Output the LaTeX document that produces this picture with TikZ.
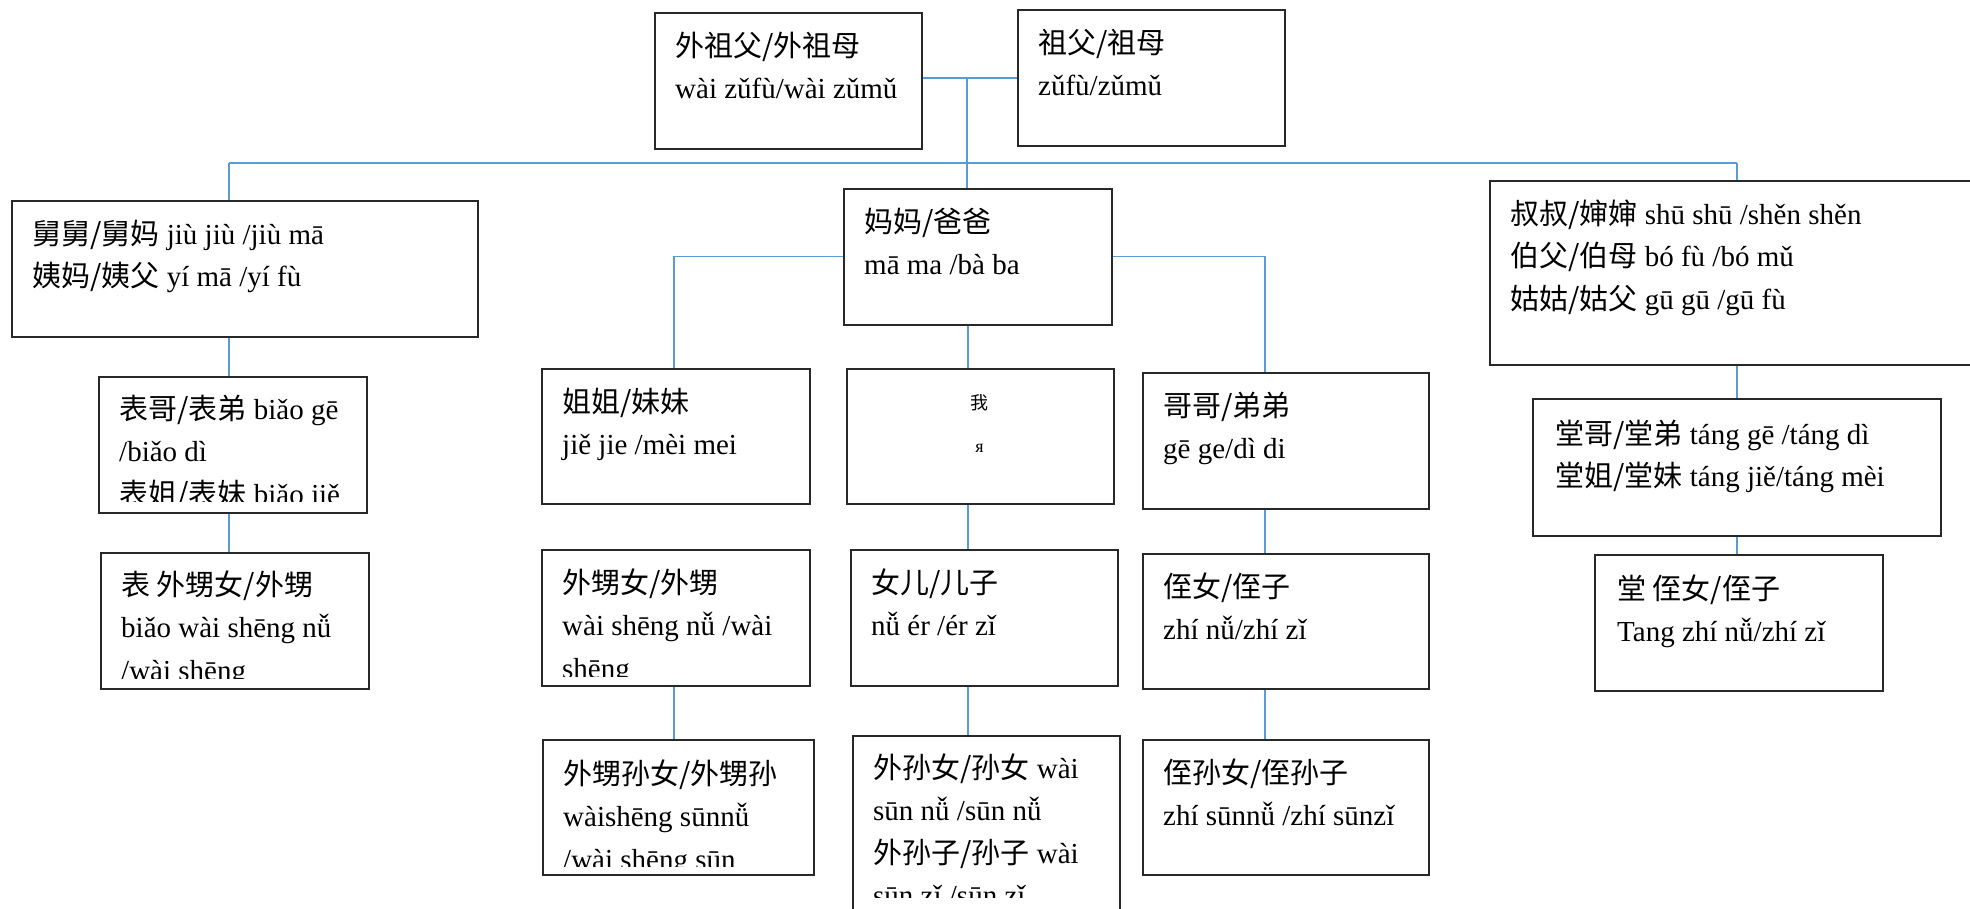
\documentclass[tikz,border=0pt]{standalone}
\usepackage{fontspec}
\setmainfont{Liberation Serif}
\newfontfamily\cjk{Noto Sans CJK SC}
\newcommand\zh[1]{{\cjk #1}}
\newcommand\tx[1]{\begin{tabular}[t]{@{}l@{}}#1\end{tabular}}
\newcommand\txc[1]{\begin{tabular}[t]{@{}c@{}}#1\end{tabular}}
\definecolor{linkblue}{RGB}{91,155,213}
\definecolor{boxline}{RGB}{40,40,40}
\tikzset{
  box/.style={draw=boxline, line width=1.5pt, anchor=north west, inner sep=0pt},
  txt/.style={anchor=base west, inner sep=0pt, font=\fontsize{29}{42.5}\selectfont},
  smalltxt/.style={anchor=base, inner sep=0pt, font=\fontsize{18}{43}\selectfont},
  link/.style={draw=linkblue, line width=1.2pt}
}
\newcommand\bx[5]{\node[box, minimum width=#4pt, minimum height=#5pt] (#1) at (#2,#3) {};}
\begin{document}
\begin{tikzpicture}[x=1pt,y=-1pt]
\useasboundingbox (0,0) rectangle (1970,908);
% boxes
\bx{wzf}{654}{12}{267}{136}
\bx{zf}{1017}{9}{267}{136}
\bx{jiujiu}{11}{200}{466}{136}
\bx{mama}{843}{188}{268}{136}
\bx{shushu}{1489}{180}{520}{184}
\bx{biaoge}{98}{376}{268}{136}
\bx{biaowai}{100}{552}{268}{136}
\bx{jiejie}{541}{368}{268}{135}
\bx{wo}{846}{368}{267}{135}
\bx{gege}{1142}{372}{286}{136}
\bx{waisheng}{541}{549}{268}{136}
\bx{nver}{850}{549}{267}{136}
\bx{zhinv}{1142}{553}{286}{135}
\bx{wssun}{542}{739}{271}{135}
\bx{waisun}{852}{735}{267}{200}
\bx{zhisun}{1142}{739}{286}{135}
\bx{tangge}{1532}{398}{408}{137}
\bx{tangzhi}{1594}{554}{288}{136}
% texts
\node[txt] (t1) at (675,56) {\tx{\zh{外祖父/外祖母}\\wài zǔfù/wài zǔmǔ}};
\node[txt] (t2) at (1038,53) {\tx{\zh{祖父/祖母}\\zǔfù/zǔmǔ}};
\node[txt] (t3) at (32,244) {\tx{\zh{舅舅/舅妈} jiù jiù /jiù mā\\\zh{姨妈/姨父} yí mā /yí fù}};
\node[txt] (t4) at (864,232) {\tx{\zh{妈妈/爸爸}\\mā ma /bà ba}};
\node[txt] (t5) at (1510,224) {\tx{\zh{叔叔/婶婶} shū shū /shěn shěn\\\zh{伯父/伯母} bó fù /bó mǔ\\\zh{姑姑/姑父} gū gū /gū fù}};
\begin{scope}
\clip (biaoge.north west) rectangle ([yshift=12pt]biaoge.south east);
\node[txt] (t6) at (119,419) {\tx{\zh{表哥/表弟} biǎo gē\\/biǎo dì\\\zh{表姐/表妹} biǎo jiě}};
\end{scope}
\begin{scope}
\clip (biaowai.north west) rectangle ([yshift=11pt]biaowai.south east);
\node[txt] (t7) at (121,595) {\tx{\zh{表 外甥女/外甥}\\biǎo wài shēng nǚ\\/wài shēng}};
\end{scope}
\node[txt] (t8) at (562,412) {\tx{\zh{姐姐/妹妹}\\jiě jie /mèi mei}};
\node[smalltxt] (t9) at (979.5,409) {\txc{\zh{我}\\я}};
\node[txt] (t10) at (1163,416) {\tx{\zh{哥哥/弟弟}\\gē ge/dì di}};
\begin{scope}
\clip (waisheng.north west) rectangle ([yshift=10pt]waisheng.south east);
\node[txt] (t11) at (562,593) {\tx{\zh{外甥女/外甥}\\wài shēng nǚ /wài\\shēng}};
\end{scope}
\node[txt] (t12) at (871,593) {\tx{\zh{女儿/儿子}\\nǚ ér /ér zǐ}};
\node[txt] (t13) at (1163,597) {\tx{\zh{侄女/侄子}\\zhí nǚ/zhí zǐ}};
\begin{scope}
\clip (wssun.north west) rectangle ([yshift=9pt]wssun.south east);
\node[txt] (t14) at (563,784) {\tx{\zh{外甥孙女/外甥孙}\\wàishēng sūnnǚ\\/wài shēng sūn}};
\end{scope}
\begin{scope}
\clip (waisun.north west) rectangle (waisun.east |- 0,897);
\node[txt] (t15) at (873,778) {\tx{\zh{外孙女/孙女} wài\\sūn nǚ /sūn nǚ\\\zh{外孙子/孙子} wài\\sūn zǐ /sūn zǐ}};
\end{scope}
\node[txt] (t16) at (1163,783) {\tx{\zh{侄孙女/侄孙子}\\zhí sūnnǚ /zhí sūnzǐ}};
\node[txt] (t17) at (1555,444) {\tx{\zh{堂哥/堂弟} táng gē /táng dì\\\zh{堂姐/堂妹} táng jiě/táng mèi}};
\node[txt] (t18) at (1617,599) {\tx{\zh{堂 侄女/侄子}\\Tang zhí nǚ/zhí zǐ}};
% connector guides
\coordinate (jn) at (967,78);
\coordinate (bar) at (0,163);
\coordinate (cA) at (229,0);
\coordinate (cB) at (674,0);
\coordinate (cC) at (968,0);
\coordinate (cD) at (1265,0);
\coordinate (cE) at (1737,0);
% connectors
\draw[link] (jn -| wzf.east) -- (jn -| zf.west);
\draw[link] (jn) -- (jn |- mama.north);
\draw[link] (bar -| cA) -- (bar -| cE);
\draw[link] (bar -| cA) -- (cA |- jiujiu.north);
\draw[link] (bar -| cE) -- (cE |- shushu.north);
\draw[link] (cA |- jiujiu.south) -- (cA |- biaoge.north);
\draw[link] (cA |- biaoge.south) -- (cA |- biaowai.north);
\draw[link] (mama.west) -| (cB |- jiejie.north);
\draw[link] (mama.east) -| (cD |- gege.north);
\draw[link] (cC |- mama.south) -- (cC |- wo.north);
\draw[link] (cC |- wo.south) -- (cC |- nver.north);
\draw[link] (cC |- nver.south) -- (cC |- waisun.north);
\draw[link] (cD |- gege.south) -- (cD |- zhinv.north);
\draw[link] (cD |- zhinv.south) -- (cD |- zhisun.north);
\draw[link] (cB |- waisheng.south) -- (cB |- wssun.north);
\draw[link] (cE |- shushu.south) -- (cE |- tangge.north);
\draw[link] (cE |- tangge.south) -- (cE |- tangzhi.north);
\end{tikzpicture}
\end{document}
